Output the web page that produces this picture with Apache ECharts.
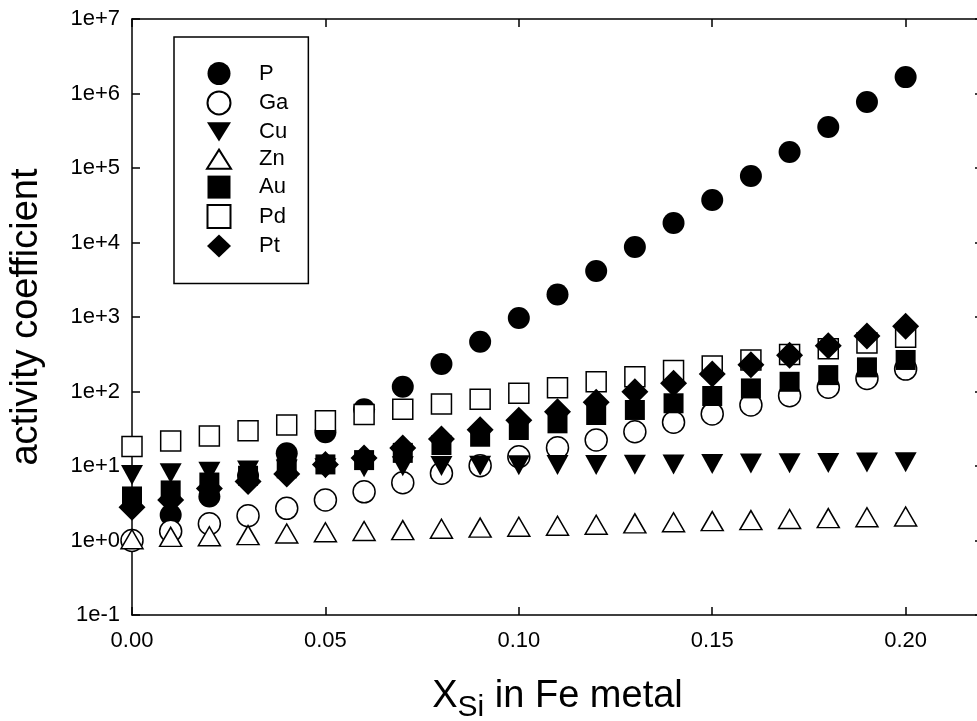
<!DOCTYPE html>
<html><head><meta charset="utf-8">
<script src="https://cdn.jsdelivr.net/npm/echarts@6/dist/echarts.min.js"></script>
<style>html,body{margin:0;padding:0;background:#fff}#c{width:977px;height:721px}</style>
</head><body><div id="c"></div>
<script>
const xValues = [0.00, 0.01, 0.02, 0.03, 0.04, 0.05, 0.06, 0.07, 0.08, 0.09, 0.10,
                 0.11, 0.12, 0.13, 0.14, 0.15, 0.16, 0.17, 0.18, 0.19, 0.20];
const seriesNames = ['P', 'Ga', 'Cu', 'Zn', 'Au', 'Pd', 'Pt'];
const P  = [1.0, 2.2, 3.9, 7.4, 14.8, 28.3, 57.7, 116, 234, 466, 970, 2005, 4140, 8710, 18270, 37200, 78100, 164000, 355000, 769000, 1660000];
const Ga = [1.0, 1.33, 1.68, 2.15, 2.7, 3.5, 4.5, 5.97, 8.0, 10.1, 13.3, 17.6, 22.3, 28.8, 38.6, 50, 66, 88, 114, 150, 200];
const Cu = [7.6, 8.0, 8.4, 8.7, 9.0, 9.3, 9.6, 9.9, 10.0, 10.1, 10.2, 10.3, 10.3, 10.4, 10.5, 10.6, 10.8, 10.9, 11.0, 11.1, 11.2];
const Zn = [1.04, 1.12, 1.14, 1.18, 1.24, 1.29, 1.34, 1.38, 1.44, 1.49, 1.53, 1.58, 1.63, 1.70, 1.76, 1.82, 1.88, 1.94, 2.0, 2.05, 2.1];
const Au = [3.9, 4.7, 6.0, 7.4, 9.3, 10.5, 12.0, 15.0, 19.1, 24.7, 30.4, 37.4, 48.4, 56.5, 69.5, 87, 110, 135, 166, 211, 265];
const Pd = [18.2, 21.7, 25.3, 29.8, 35.5, 40.5, 49.0, 57.7, 68, 79, 94.6, 112, 135, 158, 192, 220, 265, 315, 375, 448, 533];
const Pt = [2.8, 3.5, 5.0, 6.2, 7.8, 10.5, 12.8, 17.5, 23, 30.7, 41, 53.6, 71.6, 99, 129, 172, 229, 306, 412, 556, 750];
const xTickLabels = ['0.00', '0.05', '0.10', '0.15', '0.20'];
const yTickLabels = ['1e-1', '1e+0', '1e+1', '1e+2', '1e+3', '1e+4', '1e+5', '1e+6', '1e+7'];

const FONT = '"Liberation Sans", Arial, sans-serif';
const seriesValues = [P, Ga, Cu, Zn, Au, Pd, Pt];
const styles = [
  {symbol: 'circle', size: 22, fill: '#000'},
  {symbol: 'circle', size: 22, fill: '#fff'},
  {symbol: 'triangle', size: [22, 20], fill: '#000', rotate: 180},
  {symbol: 'triangle', size: [22, 19], fill: '#fff'},
  {symbol: 'rect', size: 20, fill: '#000'},
  {symbol: 'rect', size: 20, fill: '#fff'},
  {symbol: 'diamond', size: 27, fill: '#000'}
];

const series = seriesNames.map((name, i) => ({
  name: name,
  type: 'scatter',
  xAxisIndex: 0,
  yAxisIndex: 0,
  symbol: styles[i].symbol,
  symbolSize: styles[i].size,
  symbolRotate: styles[i].rotate || 0,
  itemStyle: {color: styles[i].fill, borderColor: '#000', borderWidth: styles[i].fill === '#fff' ? 1.5 : 0, opacity: 1},
  emphasis: {disabled: true},
  data: xValues.map((x, j) => [x, seriesValues[i][j]])
}));

const axisLine = {show: true, onZero: false, lineStyle: {color: '#000', width: 1.5}};
const axisTick = {show: true, inside: true, length: 8, lineStyle: {color: '#000', width: 1.5}};

const legendIcons = {
  Cu: 'path://M0,0L25,0L12.5,20Z',
  Zn: 'path://M12.5,0L25,20L0,20Z',
  Au: 'path://M0,0L20,0L20,20L0,20Z',
  Pd: 'path://M0,0L20,0L20,20L0,20Z'
};
const legendData = seriesNames.map(n => legendIcons[n] ? {name: n, icon: legendIcons[n]} : {name: n});

const chart = echarts.init(document.getElementById('c'), null, {renderer: 'canvas'});
chart.setOption({
  animation: false,
  backgroundColor: '#fff',
  grid: {left: 132, top: 19, width: 851, height: 596, containLabel: false, outerBoundsMode: 'none'},
  xAxis: [{
    type: 'value', position: 'bottom', min: 0, max: 0.22, interval: 0.05,
    axisLine: axisLine, axisTick: axisTick, splitLine: {show: false},
    axisLabel: {
      fontSize: 22, fontFamily: FONT, color: '#000', margin: 15,
      formatter: v => { const k = Math.round(v / 0.05); return (Math.abs(v - k * 0.05) < 1e-9 && k < xTickLabels.length) ? xTickLabels[k] : ''; }
    },
    name: '{x|X}{s|Si}{r| in Fe metal}',
    nameLocation: 'middle', nameGap: 63,
    nameTextStyle: {
      fontFamily: FONT, color: '#000',
      rich: {
        x: {fontSize: 38, fontFamily: FONT, color: '#000', lineHeight: 38, verticalAlign: 'top'},
        s: {fontSize: 30, fontFamily: FONT, color: '#000', lineHeight: 30, verticalAlign: 'top', padding: [15, 0, 0, 0]},
        r: {fontSize: 38, fontFamily: FONT, color: '#000', lineHeight: 38, verticalAlign: 'top'}
      }
    }
  }, {
    type: 'value', position: 'top', min: 0, max: 0.22, interval: 0.05,
    axisLine: axisLine, axisTick: axisTick, splitLine: {show: false}, axisLabel: {show: false}
  }],
  yAxis: [{
    type: 'log', logBase: 10, position: 'left', min: 0.1, max: 1e7, splitNumber: 8,
    axisLine: axisLine, axisTick: axisTick, splitLine: {show: false}, minorTick: {show: false},
    axisLabel: {
      fontSize: 22, fontFamily: FONT, color: '#000', margin: 12,
      formatter: v => { const e = Math.round(Math.log10(v)); return yTickLabels[e + 1] || ''; }
    },
    name: 'activity coefficient', nameLocation: 'middle', nameGap: 86,
    nameTextStyle: {fontSize: 38, fontFamily: FONT, color: '#000'}
  }, {
    type: 'log', logBase: 10, position: 'right', min: 0.1, max: 1e7, splitNumber: 8,
    axisLine: axisLine, axisTick: axisTick, splitLine: {show: false}, axisLabel: {show: false}
  }],
  legend: {
    orient: 'vertical', left: 174, top: 37,
    padding: [25, 20, 26, 32], itemGap: 5.4, itemWidth: 24, itemHeight: 23,
    borderColor: '#000', borderWidth: 1.5, backgroundColor: '#fff',
    selectedMode: false,
    textStyle: {fontSize: 22, fontFamily: FONT, color: '#000', padding: [0, 0, 0, 23]},
    data: legendData
  },
  series: series
});
</script></body></html>
